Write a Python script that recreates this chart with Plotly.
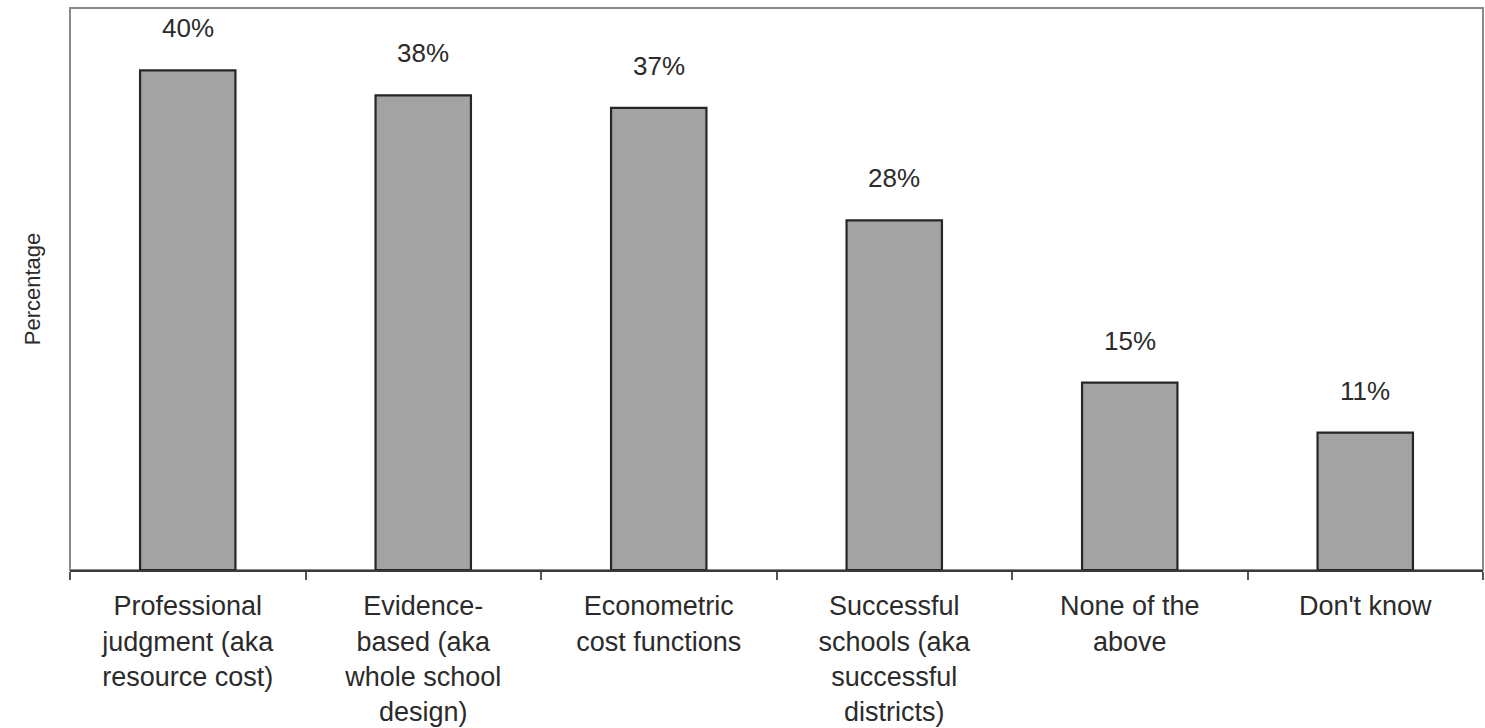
import plotly.graph_objects as go

categories = [
    "Professional<br>judgment (aka<br>resource cost)",
    "Evidence-<br>based (aka<br>whole school<br>design)",
    "Econometric<br>cost functions",
    "Successful<br>schools (aka<br>successful<br>districts)",
    "None of the<br>above",
    "Don't know",
]
values = [40, 38, 37, 28, 15, 11]
value_labels = ["40%", "38%", "37%", "28%", "15%", "11%"]

FONT = "Liberation Sans, Arial, sans-serif"
TEXT = "#2b2b2b"

fig = go.Figure(
    go.Bar(
        x=categories,
        y=values,
        marker=dict(color="#a3a3a3", line=dict(color="#262626", width=2.2)),
        width=0.405,
        hoverinfo="skip",
    )
)

# percentage labels above each bar
for cat, val, lab in zip(categories, values, value_labels):
    fig.add_annotation(
        x=cat, y=val, text=lab, showarrow=False,
        yanchor="bottom", yshift=25,
        font=dict(family=FONT, size=26, color=TEXT),
    )

# light frame around the plotting area
fig.add_shape(
    type="rect", xref="paper", yref="paper", x0=0, y0=0, x1=1, y1=1,
    line=dict(color="#8a8a8a", width=2), layer="below",
)

fig.update_layout(
    width=1485, height=728,
    margin=dict(l=70, r=2, t=8, b=158),
    paper_bgcolor="white", plot_bgcolor="white",
    showlegend=False,
    font=dict(family=FONT, color=TEXT),
)
fig.update_xaxes(
    type="category",
    showline=True, linecolor="#3a3a3a", linewidth=2,
    ticks="outside", tickson="boundaries", ticklen=8, tickcolor="#555555", tickwidth=2,
    ticklabelstandoff=11,
    tickfont=dict(family=FONT, size=27, color=TEXT),
    showgrid=False, zeroline=False,
)
fig.update_yaxes(
    range=[0, 45],
    showticklabels=False, ticks="", showgrid=False, zeroline=False, showline=False,
    title=dict(text="Percentage", font=dict(family=FONT, size=22, color=TEXT), standoff=22),
)

fig.write_html("out.html")
